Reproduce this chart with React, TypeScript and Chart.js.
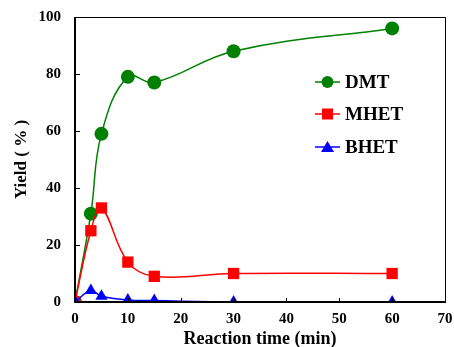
import React, { useEffect, useRef } from "react";
import { Chart, registerables } from "chart.js";

Chart.register(...registerables);

const times = [0, 3, 5, 10, 15, 30, 60];
const dmt = [0, 31, 59, 79, 77, 88, 96];
const mhet = [0, 25, 33, 14, 9, 10, 10];
const bhet = [0, 4, 2, 0.7, 0.5, 0, 0];
const xTicks = [0, 10, 20, 30, 40, 50, 60, 70];
const yTicks = [0, 20, 40, 60, 80, 100];

const seriesNames = ["DMT", "MHET", "BHET"];
const seriesColors = ["#008000", "#ff0000", "#0000ff"];
const pointStyles = ["circle", "rect", "triangle"];

const FONT = "'Liberation Serif', 'Times New Roman', serif";

const framePlugin = {
  id: "frame",
  afterDatasetsDraw(chart: any) {
    const { ctx, chartArea: a, scales } = chart;
    ctx.save();
    ctx.strokeStyle = "#000";
    ctx.lineWidth = 1;
    ctx.beginPath();
    ctx.moveTo(a.left, a.top + 0.5);
    ctx.lineTo(a.right + 0.5, a.top + 0.5);
    ctx.lineTo(a.right + 0.5, a.bottom);
    ctx.stroke();
    ctx.lineWidth = 2;
    ctx.beginPath();
    ctx.moveTo(a.left, a.top);
    ctx.lineTo(a.left, a.bottom);
    ctx.lineTo(a.right + 1, a.bottom);
    ctx.stroke();
    ctx.lineWidth = 1;
    ctx.beginPath();
    for (const v of xTicks) {
      const x = Math.round(scales.x.getPixelForValue(v)) + 0.5;
      ctx.moveTo(x, a.bottom);
      ctx.lineTo(x, a.bottom - 4);
    }
    for (const v of yTicks) {
      const y = Math.round(scales.y.getPixelForValue(v)) + 0.5;
      ctx.moveTo(a.left, y);
      ctx.lineTo(a.left + 5, y);
    }
    ctx.stroke();
    ctx.restore();
  },
  afterDraw(chart: any) {
    const { ctx, chartArea: a } = chart;
    ctx.save();
    const x0 = a.left + 240;
    const rows = [82, 114, 147];
    chart.data.datasets.forEach((ds: any, i: number) => {
      const y = rows[i];
      ctx.strokeStyle = ds.borderColor;
      ctx.lineWidth = 1.5;
      ctx.beginPath();
      ctx.moveTo(x0, y);
      ctx.lineTo(x0 + 25, y);
      ctx.stroke();
      ctx.fillStyle = ds.pointBackgroundColor;
      ctx.beginPath();
      const cx = x0 + 12.5;
      if (ds.pointStyle === "circle") {
        ctx.arc(cx, y, 6, 0, Math.PI * 2);
      } else if (ds.pointStyle === "rect") {
        ctx.rect(cx - 5.5, y - 5.5, 11, 11);
      } else {
        ctx.moveTo(cx, y - 6);
        ctx.lineTo(cx + 6.5, y + 5);
        ctx.lineTo(cx - 6.5, y + 5);
        ctx.closePath();
      }
      ctx.fill();
      ctx.fillStyle = "#000";
      ctx.font = `bold 19px ${FONT}`;
      ctx.textBaseline = "middle";
      ctx.textAlign = "left";
      ctx.fillText(ds.label, x0 + 30, y + 1);
    });
    ctx.restore();
  },
};

export default function App() {
  const ref = useRef<HTMLCanvasElement>(null);
  useEffect(() => {
    const sets = [dmt, mhet, bhet].map((vals, i) => ({
      label: seriesNames[i],
      data: times.map((t, j) => ({ x: t, y: vals[j] })),
      borderColor: seriesColors[i],
      backgroundColor: seriesColors[i],
      pointBackgroundColor: seriesColors[i],
      pointBorderColor: seriesColors[i],
      pointBorderWidth: 0,
      pointStyle: pointStyles[i],
      pointRadius: i === 0 ? 7 : i === 1 ? 8 : 7,
      borderWidth: 1.5,
      showLine: true,
      tension: 0.4,
      order: 2 - i,
    }));
    const chart = new Chart(ref.current!, {
      type: "scatter",
      data: { datasets: sets as any },
      options: {
        responsive: false,
        animation: false,
        layout: { padding: { top: 17, right: 9, left: 0, bottom: 0 } },
        plugins: { legend: { display: false }, tooltip: { enabled: false } },
        scales: {
          x: {
            type: "linear",
            min: 0,
            max: 70,
            afterBuildTicks: (s: any) => {
              s.ticks = xTicks.map((v) => ({ value: v }));
            },
            grid: { display: false },
            border: { display: false },
            ticks: {
              color: "#000",
              padding: 0,
              font: { family: FONT, size: 15, weight: "bold" },
            },
            title: {
              display: true,
              text: "Reaction time (min)",
              color: "#000",
              font: { family: FONT, size: 18, weight: "bold", lineHeight: 1 },
              padding: { top: 0, bottom: -1 },
            },
            afterFit: (s: any) => {
              s.height = 45;
              s.paddingLeft = 0;
              s.paddingRight = 0;
            },
          },
          y: {
            type: "linear",
            min: 0,
            max: 100,
            afterBuildTicks: (s: any) => {
              s.ticks = yTicks.map((v) => ({ value: v }));
            },
            grid: { display: false },
            border: { display: false },
            ticks: {
              color: "#000",
              padding: 6,
              font: { family: FONT, size: 15, weight: "bold" },
            },
            title: {
              display: true,
              text: "Yield ( % )",
              color: "#000",
              font: { family: FONT, size: 17, weight: "bold", lineHeight: 1 },
              padding: { top: 13, bottom: 0 },
            },
            afterFit: (s: any) => {
              s.width = 75;
              s.paddingTop = 0;
              s.paddingBottom = 0;
            },
          },
        },
      },
      plugins: [framePlugin],
    });
    return () => chart.destroy();
  }, []);
  return (
    <div style={{ position: "fixed", left: 0, top: 0, width: 454, height: 347, background: "#fff" }}>
      <canvas ref={ref} width={454} height={347} />
    </div>
  );
}
